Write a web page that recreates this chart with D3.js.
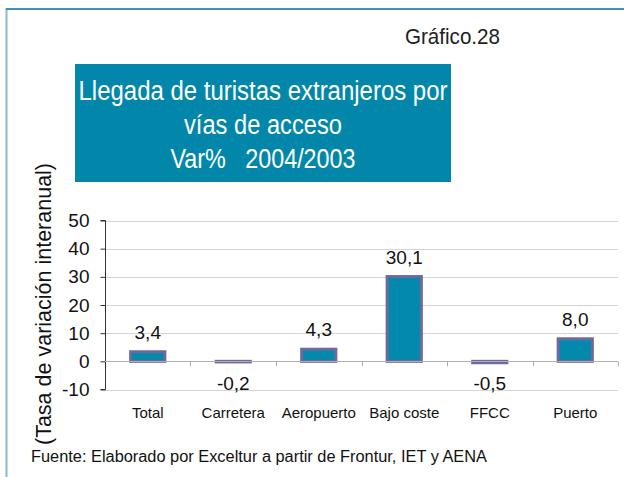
<!DOCTYPE html>
<html><head><meta charset="utf-8">
<script src="https://cdn.jsdelivr.net/npm/d3@7"></script>
<style>body{margin:0;background:#fff}svg{display:block;font-family:"Liberation Sans",Arial,sans-serif}</style>
</head><body>
<script>
const categories = ["Total","Carretera","Aeropuerto","Bajo coste","FFCC","Puerto"];
const values = [3.4,-0.2,4.3,30.1,-0.5,8.0];
const valueLabels = ["3,4","-0,2","4,3","30,1","-0,5","8,0"];
const yTicks = [-10,0,10,20,30,40,50];
const titleLines = ["Llegada de turistas extranjeros por","vías de acceso","Var%   2004/2003"];

const W=624,H=477;
const svg=d3.select("body").append("svg").attr("width",W).attr("height",H);

// frame
svg.append("line").attr("x1",6.5).attr("x2",6.5).attr("y1",8).attr("y2",H).attr("stroke","#86bad8").attr("stroke-width",2);
svg.append("line").attr("x1",6).attr("x2",W).attr("y1",9).attr("y2",9).attr("stroke","#3f8fbf").attr("stroke-width",2);

svg.append("text").attr("x",500).attr("y",44).attr("text-anchor","end").attr("font-size",22)
  .attr("textLength",95).attr("lengthAdjust","spacingAndGlyphs").attr("fill","#222").text("Gráfico.28");

// title box
svg.append("rect").attr("x",75).attr("y",64).attr("width",376).attr("height",118).attr("fill","#0287ab");
const tl=[{y:100,w:369},{y:134,w:158},{y:168,w:185}];
titleLines.forEach((t,i)=>{
  svg.append("text").attr("x",263).attr("y",tl[i].y).attr("text-anchor","middle")
    .attr("font-size",27).attr("fill","#fff").style("white-space","pre")
    .attr("textLength",tl[i].w).attr("lengthAdjust","spacingAndGlyphs").text(t);
});

const x=d3.scaleBand().domain(categories).range([105,618]).paddingInner(0.6).paddingOuter(0.3);
const y=d3.scaleLinear().domain([-10,50]).range([389.5,220.5]);

// gridlines
svg.append("g").selectAll("line").data(yTicks.filter(d=>d!==0)).join("line")
  .attr("x1",105).attr("x2",618).attr("y1",d=>Math.round(y(d))+0.5).attr("y2",d=>Math.round(y(d))+0.5)
  .attr("stroke","#d6d6d6").attr("stroke-width",1);

// y axis
const ya=svg.append("g").attr("transform","translate(105.5,0)")
  .call(d3.axisLeft(y).tickValues(yTicks).tickSize(5).tickPadding(11).tickFormat(d=>String(d)));
ya.select(".domain").attr("stroke","#333").attr("d",`M-5,${y(50)}H0V${y(-10)}H-5`);
ya.selectAll(".tick line").attr("stroke","#333");
ya.selectAll(".tick text").attr("font-size",19).attr("fill","#111").attr("font-family","Liberation Sans, Arial, sans-serif");

// bars
svg.append("g").selectAll("rect").data(values).join("rect")
  .attr("x",(d,i)=>x(categories[i])).attr("width",x.bandwidth())
  .attr("y",d=>y(Math.max(0,d))).attr("height",d=>Math.abs(y(d)-y(0)))
  .attr("fill","#0389ab").attr("stroke","#6c69a0").attr("stroke-width",3);

// zero axis
const y0=Math.round(y(0))+0.5;
svg.append("line").attr("x1",105).attr("x2",618).attr("y1",y0).attr("y2",y0).attr("stroke","#b0b0b0");
const bounds=categories.slice(1).map(c=>x(c)-x.step()*x.paddingInner()/2);
svg.append("g").selectAll("line").data(bounds.concat([618])).join("line")
  .attr("x1",d=>Math.round(d)+0.5).attr("x2",d=>Math.round(d)+0.5).attr("y1",y0).attr("y2",y0+5).attr("stroke","#b0b0b0");

// value labels
svg.append("g").selectAll("text").data(values).join("text")
  .attr("x",(d,i)=>x(categories[i])+x.bandwidth()/2)
  .attr("y",d=>d>=0? y(d)-13 : y(0)+29)
  .attr("text-anchor","middle").attr("font-size",19).attr("fill","#111")
  .text((d,i)=>valueLabels[i]);

// category labels
svg.append("g").selectAll("text").data(categories).join("text")
  .attr("x",d=>x(d)+x.bandwidth()/2).attr("y",418).attr("text-anchor","middle")
  .attr("font-size",15).attr("fill","#111").text(d=>d);

// y title
svg.append("text").attr("transform","translate(51,304) rotate(-90)").attr("text-anchor","middle")
  .attr("font-size",21.5).attr("fill","#111").text("(Tasa de variación interanual)");

// footer
svg.append("text").attr("x",31).attr("y",462).attr("font-size",16).attr("fill","#111")
  .attr("textLength",456).attr("lengthAdjust","spacingAndGlyphs")
  .text("Fuente: Elaborado por Exceltur a partir de Frontur, IET y AENA");
</script>
</body></html>
